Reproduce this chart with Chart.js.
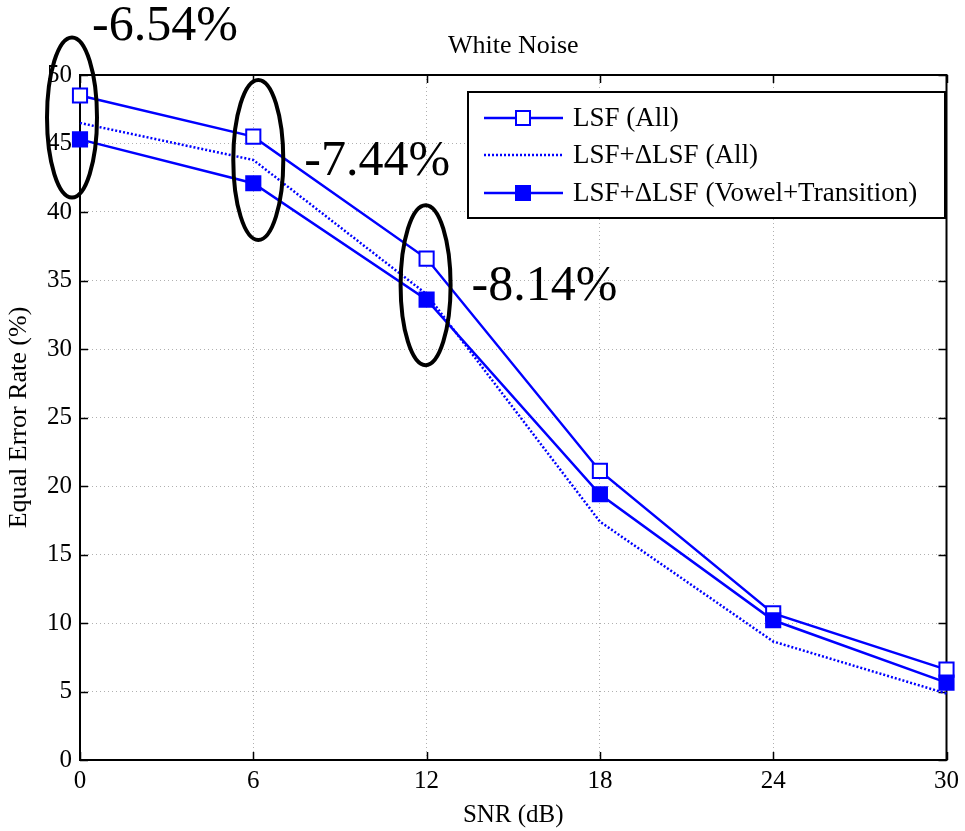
<!DOCTYPE html>
<html>
<head>
<meta charset="utf-8">
<script src="https://cdn.jsdelivr.net/npm/chart.js@4.4.1/dist/chart.umd.min.js"></script>
<style>
  html, body { margin: 0; padding: 0; background: #fff; }
  #wrap { width: 965px; height: 831px; }
</style>
</head>
<body>
<div id="wrap"><canvas id="c" width="965" height="831"></canvas></div>
<script>
// ---- data ----
const snr = [0, 6, 12, 18, 24, 30];
const lsfAll = [48.5, 45.5, 36.6, 21.1, 10.7, 6.6];
const lsfDeltaAll = [46.5, 43.8, 34.0, 17.4, 8.65, 4.85];
const lsfDeltaVT = [45.3, 42.1, 33.6, 19.4, 10.2, 5.65];
const seriesNames = ['LSF (All)', 'LSF+\u0394LSF (All)', 'LSF+\u0394LSF (Vowel+Transition)'];
const xTicks = [0, 6, 12, 18, 24, 30];
const yTicks = [0, 5, 10, 15, 20, 25, 30, 35, 40, 45, 50];
const annotSnr = [0, 6, 12];
const annotLabels = ['-6.54%', '-7.44%', '-8.14%'];

const FONT = "'Liberation Serif', 'Times New Roman', serif";
const BLUE = '#0000ff';

function pts(ys) { return snr.map((x, i) => ({ x: x, y: ys[i] })); }

const framePlugin = {
  id: 'frame',
  beforeDatasetsDraw(chart) {
    const { ctx, chartArea: a, scales } = chart;
    ctx.save();
    ctx.strokeStyle = '#000';
    ctx.lineWidth = 1.5;
    ctx.beginPath();
    xTicks.forEach(v => {
      const px = Math.round(scales.x.getPixelForValue(v)) + 0.5;
      ctx.moveTo(px, a.bottom); ctx.lineTo(px, a.bottom - 8);
      ctx.moveTo(px, a.top); ctx.lineTo(px, a.top + 8);
    });
    yTicks.forEach(v => {
      const py = Math.round(scales.y.getPixelForValue(v)) + 0.5;
      ctx.moveTo(a.left, py); ctx.lineTo(a.left + 8, py);
      ctx.moveTo(a.right, py); ctx.lineTo(a.right - 8, py);
    });
    ctx.stroke();
    ctx.lineWidth = 2;
    ctx.strokeRect(a.left, a.top, a.right - a.left, a.bottom - a.top);
    ctx.restore();
  },
  afterDraw(chart) {
    const { ctx, chartArea: a, scales } = chart;
    ctx.save();
    // title
    ctx.fillStyle = '#000';
    ctx.font = '26px ' + FONT;
    ctx.textAlign = 'center';
    ctx.textBaseline = 'middle';
    ctx.fillText('White Noise', (a.left + a.right) / 2, 46);

    // legend box
    const lx = 468, ly = 92, lw = 477, lh = 126;
    ctx.fillStyle = '#fff';
    ctx.fillRect(lx, ly, lw, lh);
    ctx.strokeStyle = '#000';
    ctx.lineWidth = 2;
    ctx.strokeRect(lx, ly, lw, lh);
    const rowsY = [118, 155, 193];
    chart.data.datasets.forEach((ds, i) => {
      const y = rowsY[i];
      ctx.strokeStyle = BLUE;
      ctx.lineWidth = ds.borderWidth;
      ctx.setLineDash(ds.borderDash || []);
      ctx.beginPath();
      ctx.moveTo(484, y); ctx.lineTo(563, y);
      ctx.stroke();
      ctx.setLineDash([]);
      if (ds.pointRadius > 0) {
        const s = 7;
        ctx.fillStyle = ds.pointBackgroundColor;
        ctx.fillRect(523 - s, y - s, 2 * s, 2 * s);
        ctx.lineWidth = 2;
        ctx.strokeRect(523 - s, y - s, 2 * s, 2 * s);
      }
      ctx.fillStyle = '#000';
      ctx.font = '27px ' + FONT;
      ctx.textAlign = 'left';
      ctx.textBaseline = 'middle';
      ctx.fillText(ds.label, 573, y + 1);
    });

    // annotation ellipses and labels
    const offX = [-8, 5, -1];
    const offY = [0, 0, 6];
    annotSnr.forEach((sv, i) => {
      const idx = snr.indexOf(sv);
      const cx = scales.x.getPixelForValue(sv) + offX[i];
      const cy = (scales.y.getPixelForValue(lsfAll[idx]) + scales.y.getPixelForValue(lsfDeltaVT[idx])) / 2 + offY[i];
      ctx.strokeStyle = '#000';
      ctx.lineWidth = 4;
      ctx.beginPath();
      ctx.ellipse(cx, cy, 25, 80, 0, 0, Math.PI * 2);
      ctx.stroke();
      ctx.fillStyle = '#000';
      ctx.font = '50px ' + FONT;
      ctx.textAlign = 'left';
      ctx.textBaseline = 'middle';
      if (i === 0) {
        ctx.fillText(annotLabels[i], cx + 20, 27);
      } else {
        ctx.fillText(annotLabels[i], cx + 46, cy + 2);
      }
    });
    ctx.restore();
  }
};

new Chart(document.getElementById('c'), {
  type: 'line',
  data: {
    datasets: [
      {
        label: seriesNames[0], data: pts(lsfAll), order: 3,
        borderColor: BLUE, borderWidth: 2.5, pointStyle: 'rect', pointRadius: 10,
        pointBackgroundColor: '#fff', pointBorderColor: BLUE, pointBorderWidth: 2,
        clip: false, tension: 0
      },
      {
        label: seriesNames[1], data: pts(lsfDeltaAll), order: 2,
        borderColor: BLUE, borderWidth: 2.5, borderDash: [2, 2], pointRadius: 0,
        pointBackgroundColor: BLUE, clip: false, tension: 0
      },
      {
        label: seriesNames[2], data: pts(lsfDeltaVT), order: 1,
        borderColor: BLUE, borderWidth: 2.5, pointStyle: 'rect', pointRadius: 10,
        pointBackgroundColor: BLUE, pointBorderColor: BLUE, pointBorderWidth: 2,
        clip: false, tension: 0
      }
    ]
  },
  options: {
    responsive: false,
    animation: false,
    devicePixelRatio: 1,
    layout: { padding: { top: 75, right: 15, left: 0, bottom: 0 } },
    plugins: { legend: { display: false }, title: { display: false }, tooltip: { enabled: false } },
    scales: {
      x: {
        type: 'linear', min: 0, max: 30,
        afterFit(s) { s.height = 71; },
        afterBuildTicks(s) { s.ticks = xTicks.map(v => ({ value: v })); },
        ticks: { color: '#000', padding: 6, font: { family: FONT, size: 25 }, maxRotation: 0 },
        grid: { color: '#b0b0b0', drawTicks: false, tickLength: 0, lineWidth: 1 },
        border: { display: false, dash: [1, 3] },
        title: { display: true, text: 'SNR (dB)', color: '#000', font: { family: FONT, size: 25 }, padding: { top: 0, bottom: 1 } }
      },
      y: {
        type: 'linear', min: 0, max: 50,
        afterFit(s) { s.width = 80; },
        afterBuildTicks(s) { s.ticks = yTicks.map(v => ({ value: v })); },
        ticks: { color: '#000', padding: 8, font: { family: FONT, size: 25 } },
        grid: { color: '#b0b0b0', drawTicks: false, tickLength: 0, lineWidth: 1 },
        border: { display: false, dash: [1, 3] },
        title: { display: true, text: 'Equal Error Rate (%)', color: '#000', font: { family: FONT, size: 26 }, padding: { top: 4, bottom: 0 } }
      }
    }
  },
  plugins: [framePlugin]
});
</script>
</body>
</html>
